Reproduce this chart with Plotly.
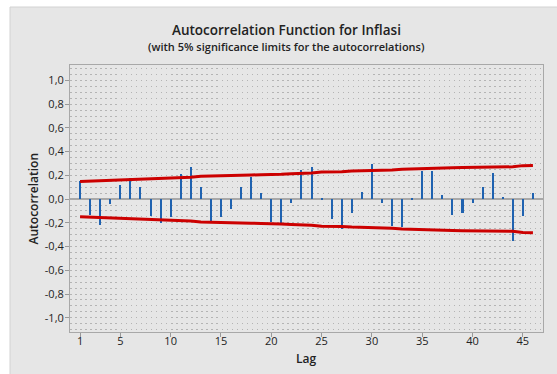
import plotly.graph_objects as go

lags = list(range(1, 47))
acf = [0.155, -0.13, -0.215, -0.04, 0.12, 0.178, 0.105, -0.14, -0.204, -0.154,
       0.213, 0.272, 0.106, -0.187, -0.148, -0.08, 0.10, 0.184, 0.05, -0.193,
       -0.199, -0.03, 0.241, 0.272, 0.012, -0.17, -0.249, -0.114, 0.061, 0.295,
       -0.03, -0.227, -0.238, 0.01, 0.235, 0.235, 0.038, -0.131, -0.114, -0.03,
       0.10, 0.224, 0.021, -0.355, -0.142, 0.055]
limit = [0.148, 0.151, 0.154, 0.160, 0.161, 0.163, 0.167, 0.168, 0.171, 0.176,
         0.179, 0.184, 0.193, 0.194, 0.198, 0.201, 0.201, 0.203, 0.206, 0.206,
         0.210, 0.214, 0.214, 0.220, 0.228, 0.228, 0.231, 0.236, 0.238, 0.238,
         0.246, 0.246, 0.251, 0.255, 0.255, 0.260, 0.265, 0.265, 0.266, 0.267,
         0.267, 0.268, 0.272, 0.272, 0.282, 0.284]
lower = [-v for v in limit]

y_tickvals = [1.0, 0.8, 0.6, 0.4, 0.2, 0.0, -0.2, -0.4, -0.6, -0.8, -1.0]
y_ticktext = ["1,0", "0,8", "0,6", "0,4", "0,2", "0,0", "-0,2", "-0,4", "-0,6", "-0,8", "-1,0"]
x_tickvals = [1, 5, 10, 15, 20, 25, 30, 35, 40, 45]

FONT = "Open Sans"
TXT = "#222222"

fig = go.Figure()
fig.add_trace(go.Bar(x=lags, y=acf, width=0.2, marker=dict(color="#1F62B0", line=dict(width=0))))
fig.add_trace(go.Scatter(x=lags, y=limit, mode="lines", line=dict(color="#CC0000", width=3)))
fig.add_trace(go.Scatter(x=lags, y=lower, mode="lines", line=dict(color="#CC0000", width=3)))

W, H = 557, 374
L, R, T, B = 70, 14, 65, 42
pw = W - L - R
ph = H - T - B


def px_x(x):
    return (x - L) / pw


def px_y(y):
    return 1 - (y - T) / ph


fig.update_layout(
    width=W, height=H,
    margin=dict(l=L, r=R, t=T, b=B, pad=0),
    paper_bgcolor="white",
    plot_bgcolor="white",
    showlegend=False,
    bargap=0,
    font=dict(family=FONT, size=11, color=TXT),
    shapes=[dict(type="rect", xref="paper", yref="paper", layer="below",
                 x0=px_x(10), x1=px_x(W + 2),
                 y0=px_y(H + 2), y1=px_y(7),
                 fillcolor="#E6E6E6", line=dict(color="#D2D2D2", width=1))],
    annotations=[
        dict(text="Autocorrelation Function for Inflasi", xref="paper", yref="paper",
             x=px_x(286), y=px_y(29.5), showarrow=False,
             xanchor="center", yanchor="middle",
             font=dict(family=FONT, size=13.5, color=TXT, weight=600)),
        dict(text="(with 5% significance limits for the autocorrelations)", xref="paper", yref="paper",
             x=px_x(286), y=px_y(46), showarrow=False,
             xanchor="center", yanchor="middle",
             font=dict(family=FONT, size=11, color=TXT, weight=600)),
        dict(text="Lag", xref="paper", yref="paper",
             x=px_x(306), y=px_y(358), showarrow=False,
             xanchor="center", yanchor="middle",
             font=dict(family=FONT, size=12, color=TXT, weight=600)),
        dict(text="Autocorrelation", xref="paper", yref="paper",
             x=px_x(33), y=0.5, showarrow=False, textangle=-90,
             xanchor="center", yanchor="middle",
             font=dict(family=FONT, size=12, color=TXT, weight=600)),
    ],
)

fig.update_xaxes(
    range=[0, 47], tickvals=x_tickvals, ticks="outside", ticklen=4, tickcolor="#999999",
    ticklabelstandoff=-5,
    showline=True, linecolor="#A8A8A8", linewidth=1, mirror=True,
    showgrid=False, zeroline=False,
    tickfont=dict(family=FONT, size=11, color=TXT),
)
fig.update_yaxes(
    range=[-1.12, 1.13], tickvals=y_tickvals, ticktext=y_ticktext,
    ticks="outside", ticklen=4, tickcolor="#999999",
    ticklabelstandoff=-1,
    showline=True, linecolor="#A8A8A8", linewidth=1, mirror=True,
    showgrid=True, gridcolor="#B4B4B4", gridwidth=1.4, griddash="1.5px,3.55px",
    minor=dict(tick0=0, dtick=0.05, showgrid=True, gridcolor="#B4B4B4", gridwidth=1.4,
               griddash="1.5px,3.55px", ticks=""),
    zeroline=True, zerolinecolor="#A8A8A8", zerolinewidth=2,
    tickfont=dict(family=FONT, size=11, color=TXT),
)

fig.write_html("out.html", config={"displayModeBar": False},
               post_script="document.body.style.margin='0';document.body.style.overflow='hidden';")
